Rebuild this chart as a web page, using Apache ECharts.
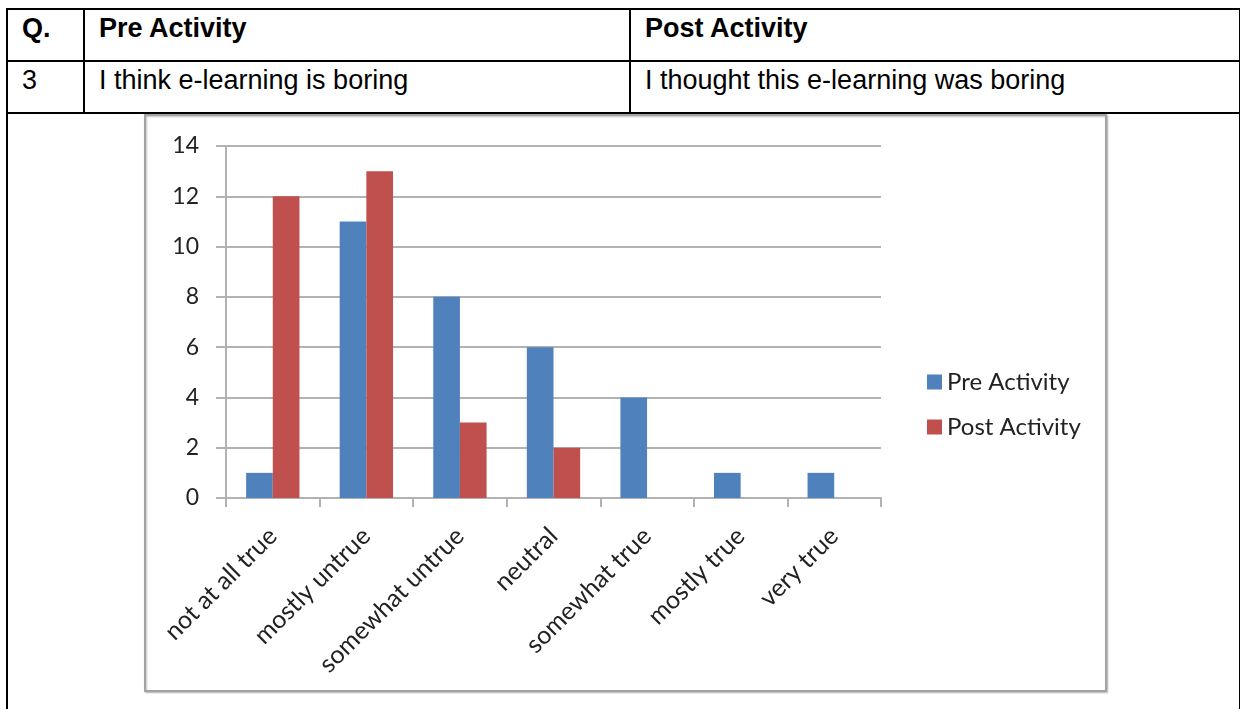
<!DOCTYPE html>
<html>
<head>
<meta charset="utf-8">
<script src="https://cdn.jsdelivr.net/npm/echarts@6/dist/echarts.min.js"></script>
<style>
  html, body { margin: 0; padding: 0; background: #fff; width: 1240px; height: 709px; overflow: hidden; }
  table.survey {
    position: absolute; left: 6px; top: 8px;
    border-collapse: collapse; table-layout: fixed; width: 1233px;
    font-family: "Liberation Sans", Arial, sans-serif; font-size: 27px; color: #000;
  }
  table.survey th, table.survey td {
    border: 2px solid #000; padding: 2px 14px 0 14px;
    vertical-align: top; text-align: left; line-height: 32px;
  }
  table.survey th { font-weight: bold; }
  #chart { position: absolute; left: 0; top: 0; width: 1240px; height: 709px; z-index: 2; }
</style>
</head>
<body>
<table class="survey">
  <colgroup><col style="width:77px"><col style="width:546px"><col style="width:610px"></colgroup>
  <tr style="height:52px"><th>Q.</th><th>Pre Activity</th><th>Post Activity</th></tr>
  <tr style="height:52px"><td>3</td><td>I think e-learning is boring</td><td>I thought this e-learning was boring</td></tr>
  <tr style="height:640px"><td colspan="3"></td></tr>
</table>
<div id="chart"></div>
<script>
// Survey responses: "I think e-learning is boring" before vs after the activity
const categories = ['not at all true', 'mostly untrue', 'somewhat untrue', 'neutral', 'somewhat true', 'mostly true', 'very true'];
const preActivity = [1, 11, 8, 6, 4, 1, 1];
const postActivity = [12, 13, 3, 2, 0, 0, 0];
const seriesNames = ['Pre Activity', 'Post Activity'];
const yMin = 0, yMax = 14, yStep = 2;

const FONT = 'Lato, "Noto Sans", sans-serif';
const AXIS_GREY = '#b2b2b2';

const chart = echarts.init(document.getElementById('chart'), null, { renderer: 'canvas' });
chart.setOption({
  backgroundColor: 'transparent',
  animation: false,
  color: ['#4F81BD', '#C0504D'],
  graphic: [{
    type: 'rect',
    shape: { x: 145, y: 115, width: 961, height: 576 },
    style: { fill: '#fff', stroke: '#a3a3a3', lineWidth: 2, shadowBlur: 2, shadowColor: 'rgba(0,0,0,0.25)', shadowOffsetX: 1, shadowOffsetY: 1 },
    z: -10
  }],
  grid: { left: 226, top: 146, width: 655, height: 352, containLabel: false },
  legend: {
    orient: 'vertical', left: 922, top: 365,
    data: seriesNames,
    icon: 'rect', itemWidth: 15, itemHeight: 15, itemGap: 21,
    textStyle: { fontFamily: FONT, fontSize: 24, color: '#222', lineHeight: 24 }
  },
  xAxis: {
    type: 'category', data: categories,
    axisLine: { lineStyle: { color: AXIS_GREY, width: 2 } },
    axisTick: { show: true, length: 9, lineStyle: { color: AXIS_GREY, width: 2 } },
    axisLabel: { rotate: 45, margin: 34, interval: 0, fontFamily: FONT, fontSize: 25, color: '#222' }
  },
  yAxis: {
    type: 'value', min: yMin, max: yMax, interval: yStep,
    axisLine: { show: true, lineStyle: { color: AXIS_GREY, width: 2 } },
    axisTick: { show: true, inside: false, length: 10, lineStyle: { color: AXIS_GREY, width: 2 } },
    splitLine: { lineStyle: { color: AXIS_GREY, width: 2 } },
    axisLabel: { margin: 27, fontFamily: FONT, fontSize: 23, color: '#222' }
  },
  series: [
    { name: seriesNames[0], type: 'bar', data: preActivity, barGap: '0%', barCategoryGap: '43%' },
    { name: seriesNames[1], type: 'bar', data: postActivity, barGap: '0%', barCategoryGap: '43%' }
  ]
});
</script>
</body>
</html>
